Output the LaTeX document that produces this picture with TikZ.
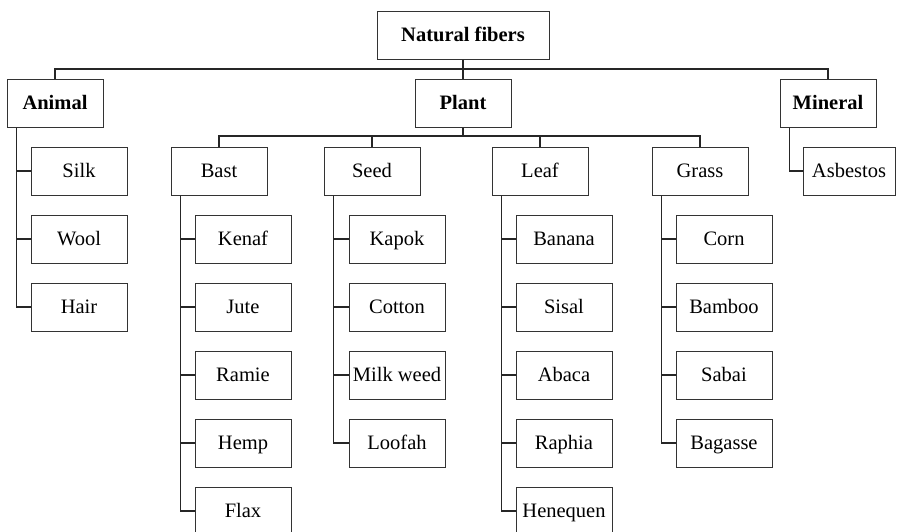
\documentclass[tikz,border=0pt]{standalone}
\usepackage{fontspec}
\setmainfont{Liberation Serif}
\begin{document}
\begin{tikzpicture}[x=1pt,y=-1pt,
  box/.style={draw=black!80, line width=1pt, fill=white, minimum width=96pt,
    minimum height=48pt, inner sep=0pt, text height=16pt, text depth=2.5pt,
    font=\fontsize{20.5}{24}\selectfont},
  head/.style={box, font=\fontsize{20.5}{24}\selectfont\bfseries},
  link/.style={draw=black!85, line width=1.1pt}]
\fill[white] (0,0) rectangle (897,531);
\useasboundingbox (0,0) rectangle (897,531);
\clip (0,0) rectangle (897,531);

% root and main classes
\node[head, minimum width=172pt] (nf) at (463,35) {Natural fibers};
\node[head] (animal)  at (55,103)  {Animal};
\node[head] (plant)   at (463,103) {Plant};
\node[head] (mineral) at (828,103) {Mineral};

% plant sub-classes
\node[box] (bast)  at (219,171) {Bast};
\node[box] (seed)  at (372,171) {Seed};
\node[box] (leaf)  at (540,171) {Leaf};
\node[box] (grass) at (700,171) {Grass};

% leaves of the tree
\foreach \n/\t [count=\i] in {silk/Silk, wool/Wool, hair/Hair}
  \node[box] (\n) at (79,{103+68*\i}) {\t};
\foreach \n/\t [count=\i] in {kenaf/Kenaf, jute/Jute, ramie/Ramie, hemp/Hemp, flax/Flax}
  \node[box] (\n) at (243,{171+68*\i}) {\t};
\foreach \n/\t [count=\i] in {kapok/Kapok, cotton/Cotton, milkweed/Milk weed, loofah/Loofah}
  \node[box] (\n) at (397,{171+68*\i}) {\t};
\foreach \n/\t [count=\i] in {banana/Banana, sisal/Sisal, abaca/Abaca, raphia/Raphia, henequen/Henequen}
  \node[box] (\n) at (564,{171+68*\i}) {\t};
\foreach \n/\t [count=\i] in {corn/Corn, bamboo/Bamboo, sabai/Sabai, bagasse/Bagasse}
  \node[box] (\n) at (724,{171+68*\i}) {\t};
\node[box, minimum width=92pt] (asbestos) at (849,171) {Asbestos};

% bus lines
\coordinate (topbus) at (463,69);
\coordinate (plantbus) at (463,136);
\draw[link] (animal.north) |- (topbus) -| (mineral.north);
\draw[link] (nf.south) -- (plant.north);
\draw[link] (bast.north) |- (plantbus) -| (grass.north);
\draw[link] (seed.north) |- (plantbus);
\draw[link] (leaf.north) |- (plantbus);
\draw[link] (plant.south) -- (plantbus);

% side branches
\foreach \n in {silk, wool, hair}
  \draw[link] ([xshift=10pt]animal.south west) |- (\n.west);
\foreach \n in {kenaf, jute, ramie, hemp, flax}
  \draw[link] ([xshift=10pt]bast.south west) |- (\n.west);
\foreach \n in {kapok, cotton, milkweed, loofah}
  \draw[link] ([xshift=10pt]seed.south west) |- (\n.west);
\foreach \n in {banana, sisal, abaca, raphia, henequen}
  \draw[link] ([xshift=10pt]leaf.south west) |- (\n.west);
\foreach \n in {corn, bamboo, sabai, bagasse}
  \draw[link] ([xshift=10pt]grass.south west) |- (\n.west);
\draw[link] ([xshift=10pt]mineral.south west) |- (asbestos.west);
\end{tikzpicture}
\end{document}
